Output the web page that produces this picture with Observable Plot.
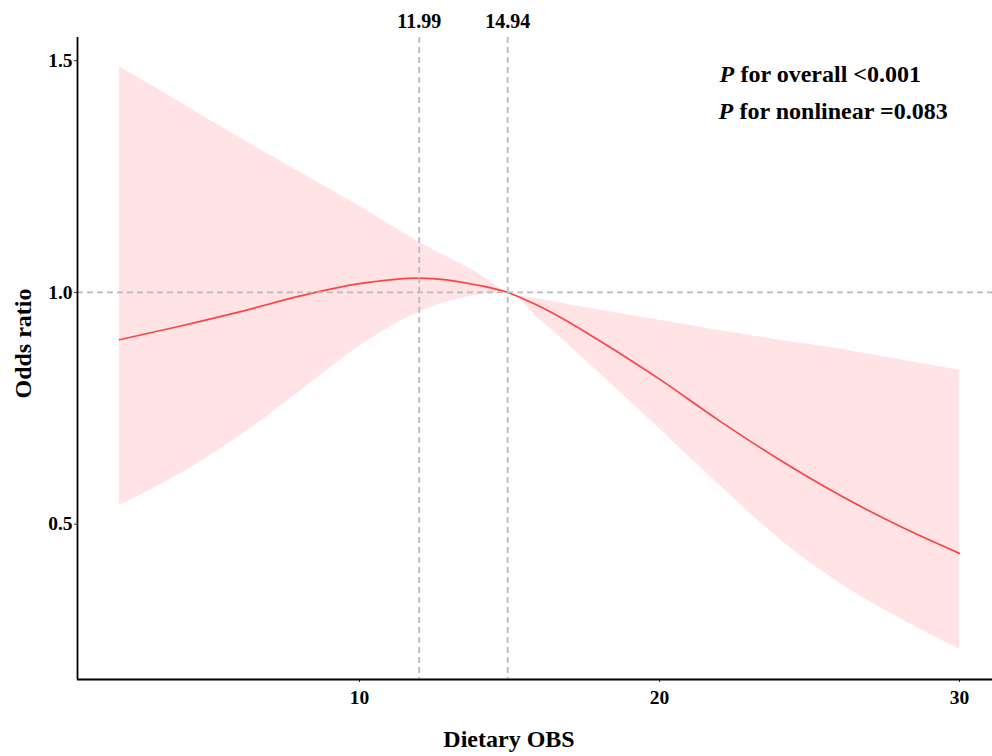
<!DOCTYPE html>
<html>
<head>
<meta charset="utf-8">
<script src="https://cdn.jsdelivr.net/npm/d3@7"></script>
<script src="https://cdn.jsdelivr.net/npm/@observablehq/plot@0.6"></script>
<style>
  html, body { margin: 0; padding: 0; background: #fff; }
  #chart svg { display: block; }
</style>
</head>
<body>
<div id="chart"></div>
<script>
// Dietary OBS values
const obs   = [2, 4, 6, 8, 10, 12, 14, 14.94, 16, 18, 20, 22, 24, 26, 28, 30];
// Odds ratio (fitted curve)
const orFit = [0.898, 0.927, 0.958, 0.992, 1.019, 1.031, 1.015, 1.000, 0.970, 0.896, 0.813, 0.723, 0.639, 0.563, 0.496, 0.437];
// 95% CI lower bound
const ciLow = [0.541, 0.608, 0.690, 0.786, 0.884, 0.958, 0.995, 1.000, 0.942, 0.826, 0.706, 0.584, 0.468, 0.373, 0.297, 0.230];
// 95% CI upper bound
const ciUp  = [1.487, 1.411, 1.334, 1.260, 1.186, 1.108, 1.039, 1.000, 0.986, 0.962, 0.940, 0.918, 0.897, 0.878, 0.855, 0.832];

const xTicks = [10, 20, 30];
const yTicks = [0.5, 1.0, 1.5];
const cutPoints = [11.99, 14.94];
const refOR = 1;
const pLabel = "P";
const pOverall = "for overall <0.001";
const pNonlinear = "for nonlinear =0.083";

const xDomain = [0.6, 31.1];
const yDomain = [0.165, 1.55];

const data = obs.map((x, i) => ({x, y: orFit[i], lo: ciLow[i], hi: ciUp[i]}));

const font = "'Liberation Serif', 'Times New Roman', serif";
const txt = {fontWeight: "bold", fill: "#000", lineAnchor: "middle"};

const chart = Plot.plot({
  width: 992,
  height: 756,
  marginLeft: 77,
  marginRight: 0,
  marginTop: 37,
  marginBottom: 77,
  style: {fontFamily: font, fontWeight: "bold", background: "#fff", overflow: "visible", color: "#000"},
  x: {domain: xDomain},
  y: {domain: yDomain},
  marks: [
    Plot.areaY(data, {x: "x", y1: "lo", y2: "hi", fill: "#FFE3E5", curve: "monotone-x"}),
    Plot.lineY(data, {x: "x", y: "y", stroke: "#FF4343", strokeWidth: 1.7, curve: "monotone-x"}),
    Plot.ruleY([refOR], {stroke: "#BBBBBB", strokeWidth: 1.8, strokeDasharray: "6,4"}),
    Plot.ruleX(cutPoints, {stroke: "#BBBBBB", strokeWidth: 1.8, strokeDasharray: "6,4"}),
    Plot.text(cutPoints, {x: d => d, text: d => d.toFixed(2), frameAnchor: "top", textAnchor: "middle", dy: -16, fontSize: 20, ...txt}),
    Plot.axisX({ticks: xTicks, tickSize: 3, tickPadding: 8, fontSize: 19.5, fontWeight: "bold", label: null, stroke: "#333"}),
    Plot.axisY({ticks: yTicks, tickSize: 3, tickPadding: 2, fontSize: 19.5, fontWeight: "bold", label: null, tickFormat: ".1f", stroke: "#333"}),
    Plot.ruleX([xDomain[0]], {stroke: "#000", strokeWidth: 1.8}),
    Plot.ruleY([yDomain[0]], {stroke: "#000", strokeWidth: 1.8}),
    Plot.text(["Dietary OBS"], {frameAnchor: "bottom", textAnchor: "middle", dx: -26, dy: 60, fontSize: 24, ...txt}),
    Plot.text(["Odds ratio"], {frameAnchor: "left", textAnchor: "middle", rotate: -90, dx: -54, dy: -15, fontSize: 24, ...txt}),
    Plot.text([pLabel], {frameAnchor: "top-left", textAnchor: "start", dx: 642, dy: 37, fontSize: 24, fontStyle: "italic", ...txt}),
    Plot.text([pOverall], {frameAnchor: "top-left", textAnchor: "start", dx: 663, dy: 37, fontSize: 24, ...txt}),
    Plot.text([pLabel], {frameAnchor: "top-left", textAnchor: "start", dx: 641, dy: 73.5, fontSize: 24, fontStyle: "italic", ...txt}),
    Plot.text([pNonlinear], {frameAnchor: "top-left", textAnchor: "start", dx: 662, dy: 73.5, fontSize: 24, ...txt})
  ]
});

document.getElementById("chart").appendChild(chart);
</script>
</body>
</html>
